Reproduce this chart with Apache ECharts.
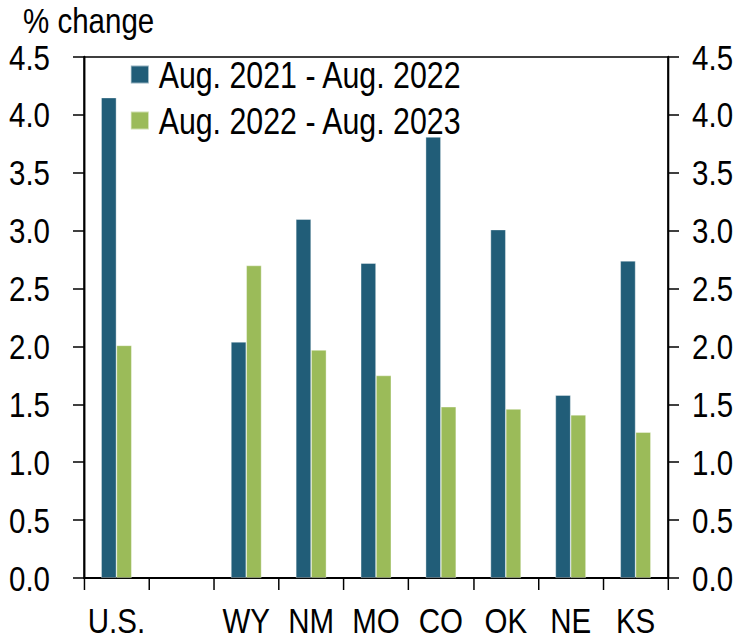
<!DOCTYPE html>
<html>
<head>
<meta charset="utf-8">
<script src="https://cdn.jsdelivr.net/npm/echarts@6/dist/echarts.min.js"></script>
<style>
  html, body { margin: 0; padding: 0; background: #fff; overflow: hidden; }
  #frame { width: 747px; height: 640px; overflow: hidden; position: relative; }
  /* The chart is laid out on a wider canvas and squeezed horizontally,
     which gives the condensed lettering of the house style. */
  #chart { width: 911px; height: 640px; transform: scaleX(0.82); transform-origin: 0 0; }
</style>
</head>
<body>
<div id="frame"><div id="chart"></div></div>
<script>
// Regions compared; the empty slot separates the national figure from the states
const categories = ['U.S.', '', 'WY', 'NM', 'MO', 'CO', 'OK', 'NE', 'KS'];
const seriesNames = ['Aug. 2021 - Aug. 2022', 'Aug. 2022 - Aug. 2023'];
const change2122 = [4.15, '-', 2.04, 3.10, 2.72, 3.81, 3.01, 1.58, 2.74];
const change2223 = [2.01, '-', 2.70, 1.97, 1.75, 1.48, 1.46, 1.41, 1.26];
const yTicks = { min: 0, max: 4.5, interval: 0.5 };

const SQUEEZE = 0.82;               // horizontal scale applied by CSS
const sx = px => px / SQUEEZE;      // convert a screen width to layout width
const FONT = '"Liberation Sans", Arial, sans-serif';
const FS = 36;
const BLUE = '#215d78';
const GREEN = '#9bbb59';

const chart = echarts.init(document.getElementById('chart'), null, { renderer: 'svg' });

const valueAxis = (position, margin) => ({
  type: 'value',
  position: position,
  min: yTicks.min,
  max: yTicks.max,
  interval: yTicks.interval,
  axisLine: { show: true, lineStyle: { color: '#000', width: 2.4 } },
  axisTick: { show: true, inside: false, length: sx(11), lineStyle: { color: '#000', width: 1.5 } },
  splitLine: { show: false },
  axisLabel: {
    color: '#000', fontFamily: FONT, fontSize: FS, margin: margin,
    formatter: v => v.toFixed(1)
  }
});

chart.setOption({
  animation: false,
  backgroundColor: '#fff',
  textStyle: { fontFamily: FONT },
  grid: {
    left: sx(84), right: sx(79), top: 57, bottom: 62,
    show: true, borderColor: '#000', borderWidth: 1.6, backgroundColor: 'transparent'
  },
  graphic: [{
    type: 'text', left: sx(23), top: 2,
    style: { text: '% change', fill: '#000', font: FS + 'px ' + FONT }
  }],
  legend: {
    orient: 'vertical', left: sx(130), top: 56, padding: 0,
    itemWidth: sx(18), itemHeight: 18, itemGap: 9,
    icon: 'rect',
    textStyle: { color: '#000', fontFamily: FONT, fontSize: FS + 1, padding: [0, 0, 0, 7] },
    data: seriesNames
  },
  xAxis: {
    type: 'category',
    data: categories,
    boundaryGap: true,
    axisLine: { show: true, lineStyle: { color: '#000', width: 2 } },
    axisTick: { show: true, alignWithLabel: false, interval: 0, length: 12, lineStyle: { color: '#000', width: 1.8 } },
    axisLabel: { color: '#000', fontFamily: FONT, fontSize: FS, margin: 24, interval: 0 }
  },
  yAxis: [valueAxis('left', sx(34)), valueAxis('right', sx(24))],
  series: [
    {
      name: seriesNames[0], type: 'bar', data: change2122,
      barWidth: sx(15.3), barGap: '0%',
      itemStyle: { color: BLUE, borderColor: 'rgba(255,255,255,0.5)', borderWidth: 0.8 }
    },
    {
      name: seriesNames[1], type: 'bar', data: change2223,
      barWidth: sx(15.3), barGap: '0%',
      itemStyle: { color: GREEN, borderColor: 'rgba(255,255,255,0.5)', borderWidth: 0.8 }
    }
  ]
});
</script>
</body>
</html>
